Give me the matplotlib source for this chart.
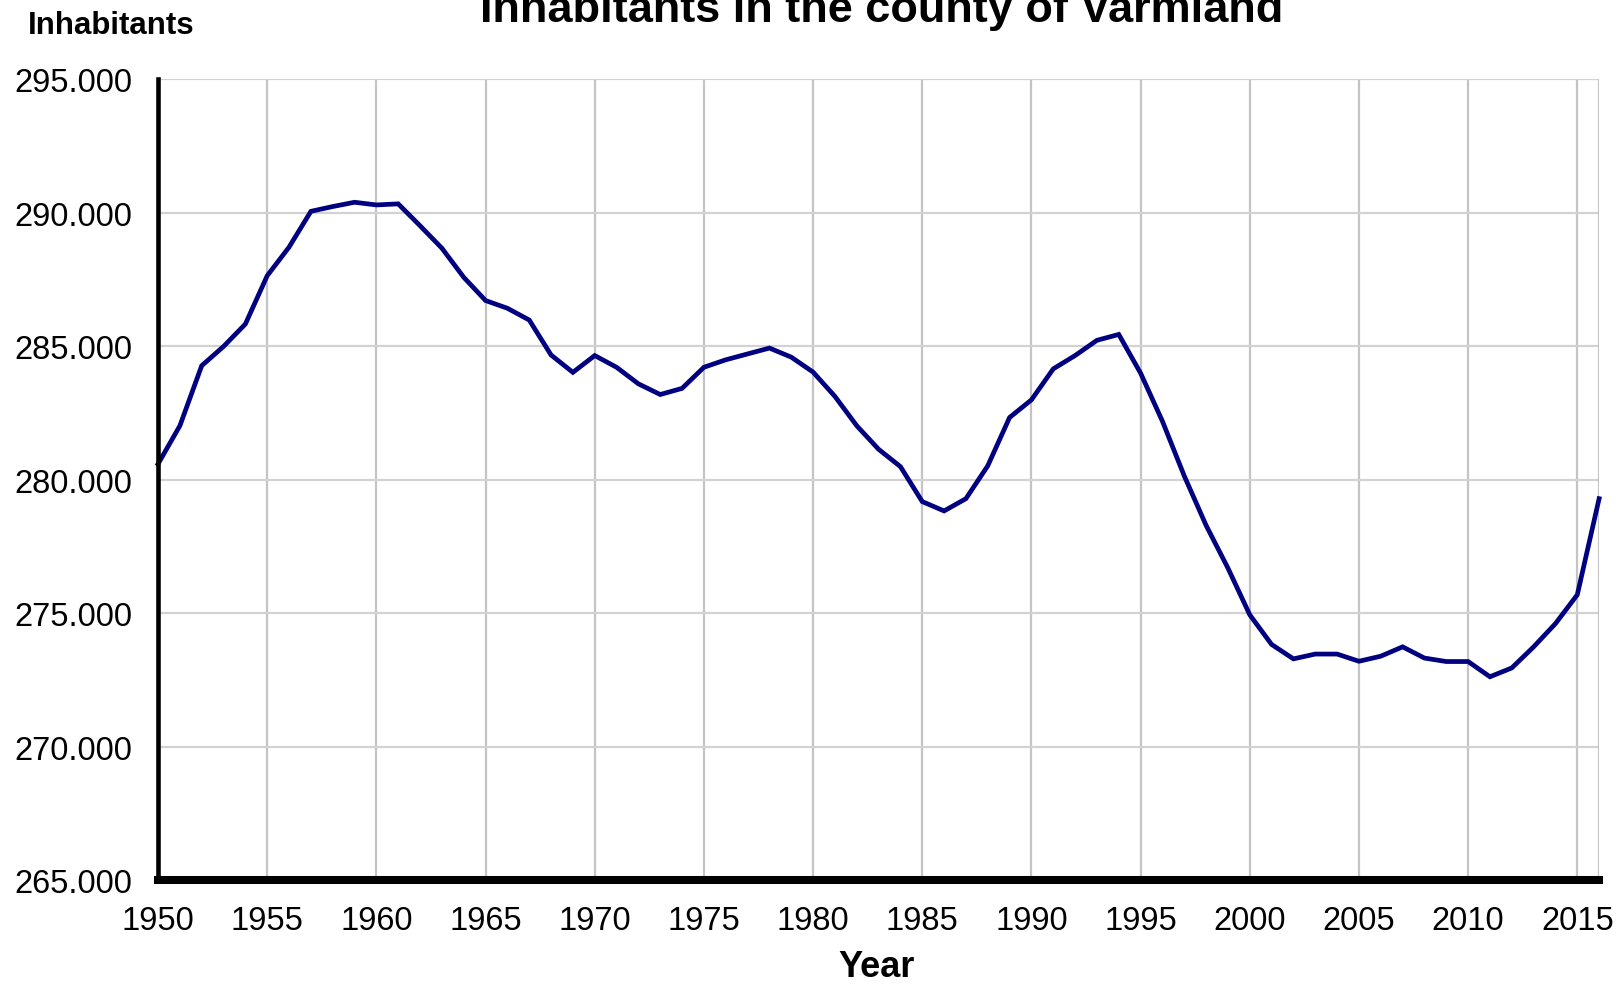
import matplotlib
matplotlib.use("Agg")
import matplotlib.pyplot as plt

years = list(range(1950, 2017))
inhabitants = [
    280600, 282030, 284280, 285000, 285840, 287650, 288720, 290060, 290240, 290400,
    290300, 290340, 289520, 288680, 287590, 286720, 286430, 285990, 284680, 284030,
    284660, 284220, 283600, 283200, 283430, 284220, 284500, 284720, 284940, 284600,
    284040, 283130, 282030, 281150, 280500, 279190, 278840, 279300, 280530, 282340,
    283000, 284160, 284660, 285230, 285450, 284000, 282200, 280150, 278300, 276700,
    274950, 273840, 273300, 273480, 273480, 273210, 273400, 273750, 273330, 273200,
    273200, 272630, 272960, 273750, 274620, 275700, 279300,
]
year_ticks = list(range(1950, 2016, 5))
y_ticks = [265000, 270000, 275000, 280000, 285000, 290000, 295000]
y_tick_labels = ["265.000", "270.000", "275.000", "280.000", "285.000", "290.000", "295.000"]

plt.rcParams["font.family"] = ["Liberation Sans", "DejaVu Sans"]

fig = plt.figure(figsize=(16.21, 9.87), dpi=100)
ax = fig.add_axes([0.0975, 0.1069, 0.8890, 0.8116])

ax.plot(years, inhabitants, color="#000080", lw=3.4, clip_on=False, zorder=3,
        solid_joinstyle="miter")

ax.set_xlim(1950, 2016)
ax.set_ylim(265000, 295000)
ax.set_xticks(year_ticks)
ax.set_yticks(y_ticks)
ax.set_yticklabels(y_tick_labels)

# light grey grid, plus one line at the right edge (last year)
ax.grid(axis="x", color="#c4c4c4", lw=1.6)
ax.grid(axis="y", color="#d2d2d2", lw=1.6)
ax.axvline(years[-1], color="#c4c4c4", lw=1.6)
ax.set_axisbelow(True)

for s in ["top", "right"]:
    ax.spines[s].set_visible(False)
ax.spines["left"].set_linewidth(3.3)
ax.spines["bottom"].set_linewidth(5.8)
ax.spines["left"].set_zorder(4)
ax.spines["bottom"].set_zorder(4)

ax.tick_params(axis="both", length=0, labelsize=23.5)
ax.tick_params(axis="x", pad=18)
ax.tick_params(axis="y", pad=18.5)

fig.text(0.544, 0.978, "Inhabitants in the county of Varmland", ha="center",
         va="baseline", fontsize=32.5, fontweight="bold")
fig.text(0.0173, 0.9655, "Inhabitants", ha="left", va="baseline",
         fontsize=22.5, fontweight="bold")
fig.text(0.541, 0.0101, "Year", ha="center", va="baseline",
         fontsize=26, fontweight="bold")

fig.savefig("out.png", dpi=100)
